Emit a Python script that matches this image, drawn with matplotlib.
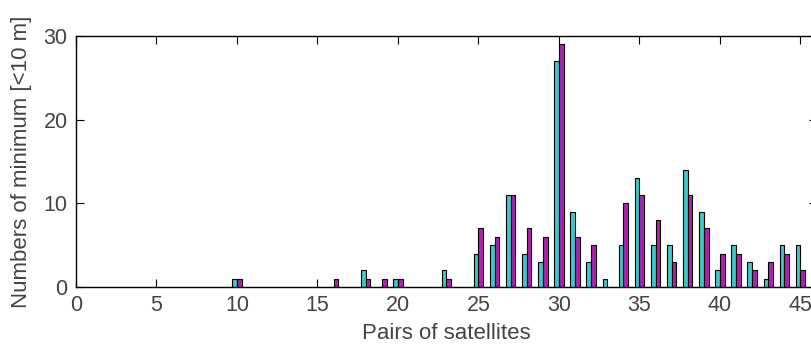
import numpy as np
from matplotlib import pyplot as plt

plt.rcParams['font.family'] = ['Liberation Sans', 'DejaVu Sans']

# pair index and counts of minima for the two series
pairs = [10, 16, 18, 19, 20, 23, 25, 26, 27, 28, 29, 30, 31, 32, 33, 34, 35,
         36, 37, 38, 39, 40, 41, 42, 43, 44, 45]
series_a = [1, 0, 2, 0, 1, 2, 4, 5, 11, 4, 3, 27, 9, 3, 1, 5, 13,
            5, 5, 14, 9, 2, 5, 3, 1, 5, 5]
series_b = [1, 1, 1, 1, 1, 1, 7, 6, 11, 7, 6, 29, 6, 5, 0, 10, 11,
            8, 3, 11, 7, 4, 4, 2, 3, 4, 2]

x = np.array(pairs)
w = 0.29

fig = plt.figure(figsize=(8.12, 3.47), dpi=100)
ax = fig.add_axes([0.0936, 0.173, 0.912, 0.723])

ax.bar(x - w / 2, series_a, width=w, color='#40c8c8', edgecolor='black', linewidth=0.8)
ax.bar(x + w / 2, series_b, width=w, color='#b020b0', edgecolor='black', linewidth=0.8)

ax.set_xlim(0, 46)
ax.set_ylim(0, 30)
ax.set_xticks(range(0, 46, 5))
ax.set_yticks([0, 10, 20, 30])
ax.tick_params(direction='in', top=True, right=True, length=6, labelsize=15.5,
               labelcolor='#444444', pad=6)
for s in ax.spines.values():
    s.set_linewidth(1.0)

ax.set_xlabel('Pairs of satellites', fontsize=16, color='#444444', labelpad=5)
ax.set_ylabel('Numbers of minimum [<10 m]', fontsize=16, color='#444444', labelpad=8)

fig.savefig('out.png', dpi=100)
